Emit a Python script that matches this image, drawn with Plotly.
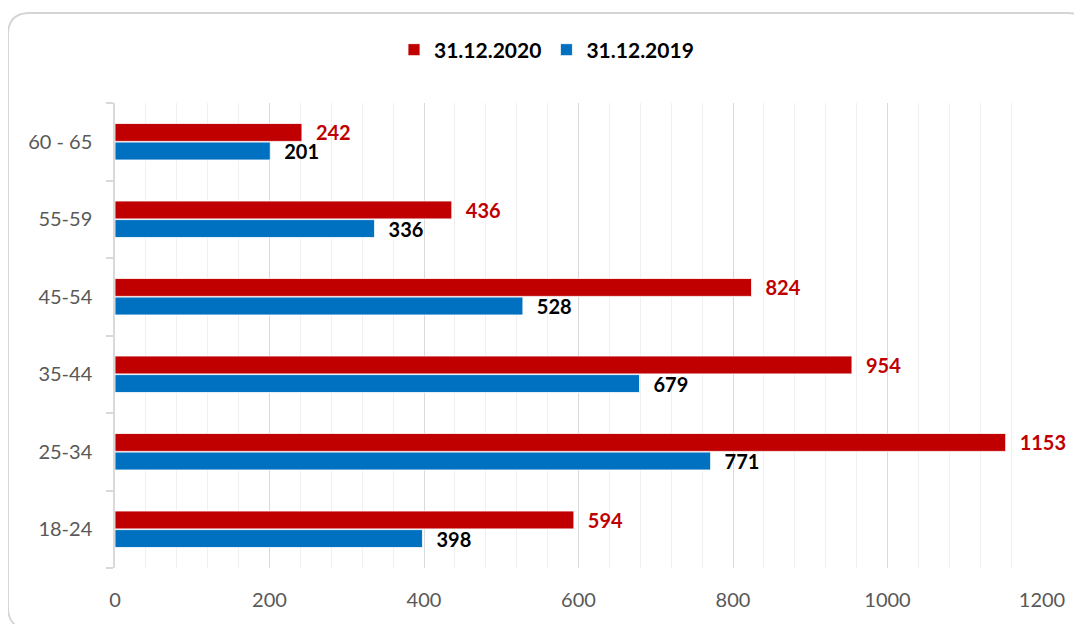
import plotly.graph_objects as go

categories = ["18-24", "25-34", "35-44", "45-54", "55-59", "60 - 65"]
values_2019 = [398, 771, 679, 528, 336, 201]
values_2020 = [594, 1153, 954, 824, 436, 242]
series_names = ["31.12.2019", "31.12.2020"]
x_ticks = [0, 200, 400, 600, 800, 1000, 1200]

# page body has an 8px default margin; compensate so the figure fills the window
OFF = 8
W, H = 1082 - OFF, 624 - OFF
ML, MR, MT, MB = 115 - OFF, 40, 103 - OFF, 56
PW, PH = W - ML - MR, H - MT - MB

def px2paper(px, py):
    px -= OFF
    py -= OFF
    return (px - ML) / PW, (H - MB - py) / PH

FONT = "Lato"
pad = "\u00a0\u00a0\u200a"

fig = go.Figure()
fig.add_trace(go.Bar(
    y=categories, x=values_2019, name=series_names[0], orientation="h",
    marker=dict(color="#0070C0", line=dict(color="white", width=0.8)),
    text=values_2019, texttemplate=pad + "%{x}", textposition="outside",
    textfont=dict(family=FONT, size=20, color="#000000", weight="bold"),
    constraintext="none", cliponaxis=False, legendrank=2,
))
fig.add_trace(go.Bar(
    y=categories, x=values_2020, name=series_names[1], orientation="h",
    marker=dict(color="#C00000", line=dict(color="white", width=0.8)),
    text=values_2020, texttemplate=pad + "%{x}", textposition="outside",
    textfont=dict(family=FONT, size=20, color="#C00000", weight="bold"),
    constraintext="none", cliponaxis=False, legendrank=1,
))

# rounded border
x0, y0 = px2paper(8, 13)
x1, y1 = px2paper(1090, 629)
rx, ry = 22 / PW, 22 / PH
path = (f"M {x0+rx},{y0} L {x1-rx},{y0} Q {x1},{y0} {x1},{y0-ry} "
        f"L {x1},{y1+ry} Q {x1},{y1} {x1-rx},{y1} L {x0+rx},{y1} "
        f"Q {x0},{y1} {x0},{y1+ry} L {x0},{y0-ry} Q {x0},{y0} {x0+rx},{y0} Z")

lx, ly = px2paper(394, 50)

fig.update_layout(
    width=W, height=H,
    margin=dict(l=ML, r=MR, t=MT, b=MB),
    paper_bgcolor="white", plot_bgcolor="white",
    barmode="group", bargap=0.52, bargroupgap=0.04,
    font=dict(family=FONT, size=20, color="#595959"),
    showlegend=True,
    legend=dict(orientation="h", x=lx, y=ly, xanchor="left", yanchor="middle",
                font=dict(family=FONT, size=21, color="#000000", weight="bold"),
                itemwidth=30, bgcolor="rgba(0,0,0,0)"),
    shapes=[dict(type="path", path=path, xref="paper", yref="paper",
                 line=dict(color="#d4d4d4", width=1.8), layer="below")],
    xaxis=dict(range=[0, 1200], tickvals=x_ticks, showgrid=True, gridcolor="#d9d9d9",
               gridwidth=1, zeroline=False, showline=False,
               ticks="outside", ticklen=14, tickcolor="rgba(0,0,0,0)",
               tickfont=dict(family=FONT, size=20, color="#595959"),
               minor=dict(dtick=40, showgrid=True, gridcolor="#f0f0f0", gridwidth=1),
               fixedrange=True),
    yaxis=dict(type="category", categoryorder="array", categoryarray=categories,
               showline=True, linecolor="#d9d9d9", linewidth=1.5,
               ticks="outside", tickson="boundaries", ticklen=7, tickcolor="#d9d9d9",
               tickwidth=1.5, ticklabelstandoff=17, showgrid=False,
               tickfont=dict(family=FONT, size=20, color="#595959"), fixedrange=True),
)

fig.write_html("out.html")
